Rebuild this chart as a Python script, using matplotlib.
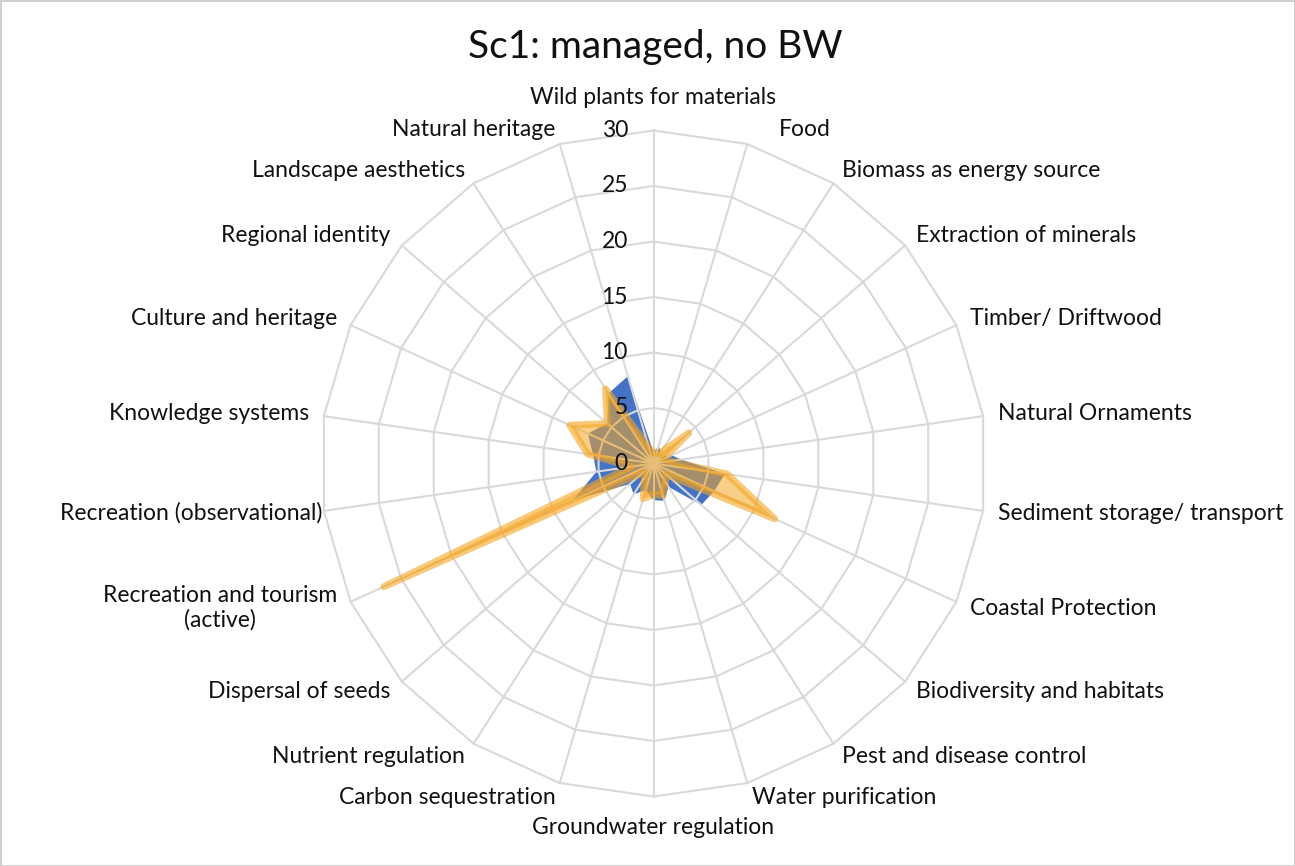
import numpy as np
import matplotlib
matplotlib.use("Agg")
from matplotlib import pyplot as plt

plt.rcParams['font.family'] = ['Lato', 'DejaVu Sans']

categories = [
    "Wild plants for materials", "Food", "Biomass as energy source",
    "Extraction of minerals", "Timber/ Driftwood", "Natural Ornaments",
    "Sediment storage/ transport", "Coastal Protection",
    "Biodiversity and habitats", "Pest and disease control",
    "Water purification", "Groundwater regulation", "Carbon sequestration",
    "Nutrient regulation", "Dispersal of seeds",
    "Recreation and tourism\n(active)", "Recreation (observational)",
    "Knowledge systems", "Culture and heritage", "Regional identity",
    "Landscape aesthetics", "Natural heritage",
]

# two scenario series, same order as categories
series_1 = [1.0, 1.6, 1.3, 1.0, 1.8, 2.5, 6.5, 6.0, 5.7, 2.5, 3.5,
            3.3, 2.5, 3.3, 2.8, 8.0, 5.2, 5.5, 6.5, 5.5, 7.5, 8.2]
series_2 = [1.0, 1.0, 1.2, 4.2, 1.0, 1.5, 6.7, 12.0, 1.5, 2.0, 3.0,
            2.8, 3.3, 1.5, 1.2, 26.7, 2.0, 6.0, 8.3, 5.5, 8.0, 1.5]

ticks = [0, 5, 10, 15, 20, 25, 30]
r_max = 30

n = len(categories)
theta = 2 * np.pi * np.arange(n) / n


def to_xy(vals):
    vals = np.asarray(vals, dtype=float)
    x = vals * np.sin(theta)
    y = vals * np.cos(theta)
    return np.append(x, x[0]), np.append(y, y[0])


fig = plt.figure(figsize=(12.95, 8.66), dpi=100)
fig.patch.set_facecolor("white")
fig.patch.set_edgecolor("#d0d0d0")
fig.patch.set_linewidth(2)

# axes sized so one unit is ~11.1 px, centred on the chart centre
W, H = 1295, 866
size = 68 * 11.1
ax = fig.add_axes([(653.5 - size / 2) / W, (866 - 463.5 - size / 2) / H,
                   size / W, size / H])
ax.set_xlim(-34, 34)
ax.set_ylim(-34, 34)
ax.axis("off")

grid_col = "#d9d9d9"
txt_col = "#111111"

# series 1 (solid blue)
x1, y1 = to_xy(series_1)
ax.fill(x1, y1, color="#4472c4", zorder=2, lw=0)

# polygon grid and spokes
for t in ticks[1:]:
    gx, gy = to_xy([t] * n)
    ax.plot(gx, gy, color=grid_col, lw=1.5, zorder=3)
for th in theta:
    ax.plot([0, r_max * np.sin(th)], [0, r_max * np.cos(th)],
            color=grid_col, lw=1.5, zorder=3)

# series 2 (translucent orange with thick outline)
x2, y2 = to_xy(series_2)
ax.fill(x2, y2, color="#f5a623", alpha=0.55, zorder=4, lw=0)
ax.plot(x2, y2, color="#f5a623", alpha=0.6, lw=5, zorder=5,
        solid_joinstyle="round", solid_capstyle="round")

# radial tick labels
for t in ticks:
    ax.text(-2.3, t, str(t), ha="right", va="center", fontsize=16.5,
            color=txt_col, zorder=6)

# category labels, small sideways nudges for a couple of them
nudge = {"Food": 2.5, "Recreation (observational)": 1.2}
pad = 30 + 1.35
for lab, th in zip(categories, theta):
    s, c = np.sin(th), np.cos(th)
    if abs(s) < 0.05:
        r = 33.0 if c > 0 else 32.75
        ha = "center"
    else:
        r = pad
        ha = "left" if s > 0 else "right"
    ax.text(r * s + nudge.get(lab, 0), r * c, lab, ha=ha, va="center",
            fontsize=16.5, color=txt_col, multialignment="center",
            clip_on=False)

fig.text(655 / W, 1 - 47 / H, "Sc1: managed, no BW", ha="center",
         va="center", fontsize=28, color=txt_col)

fig.savefig("out.png", dpi=100)
